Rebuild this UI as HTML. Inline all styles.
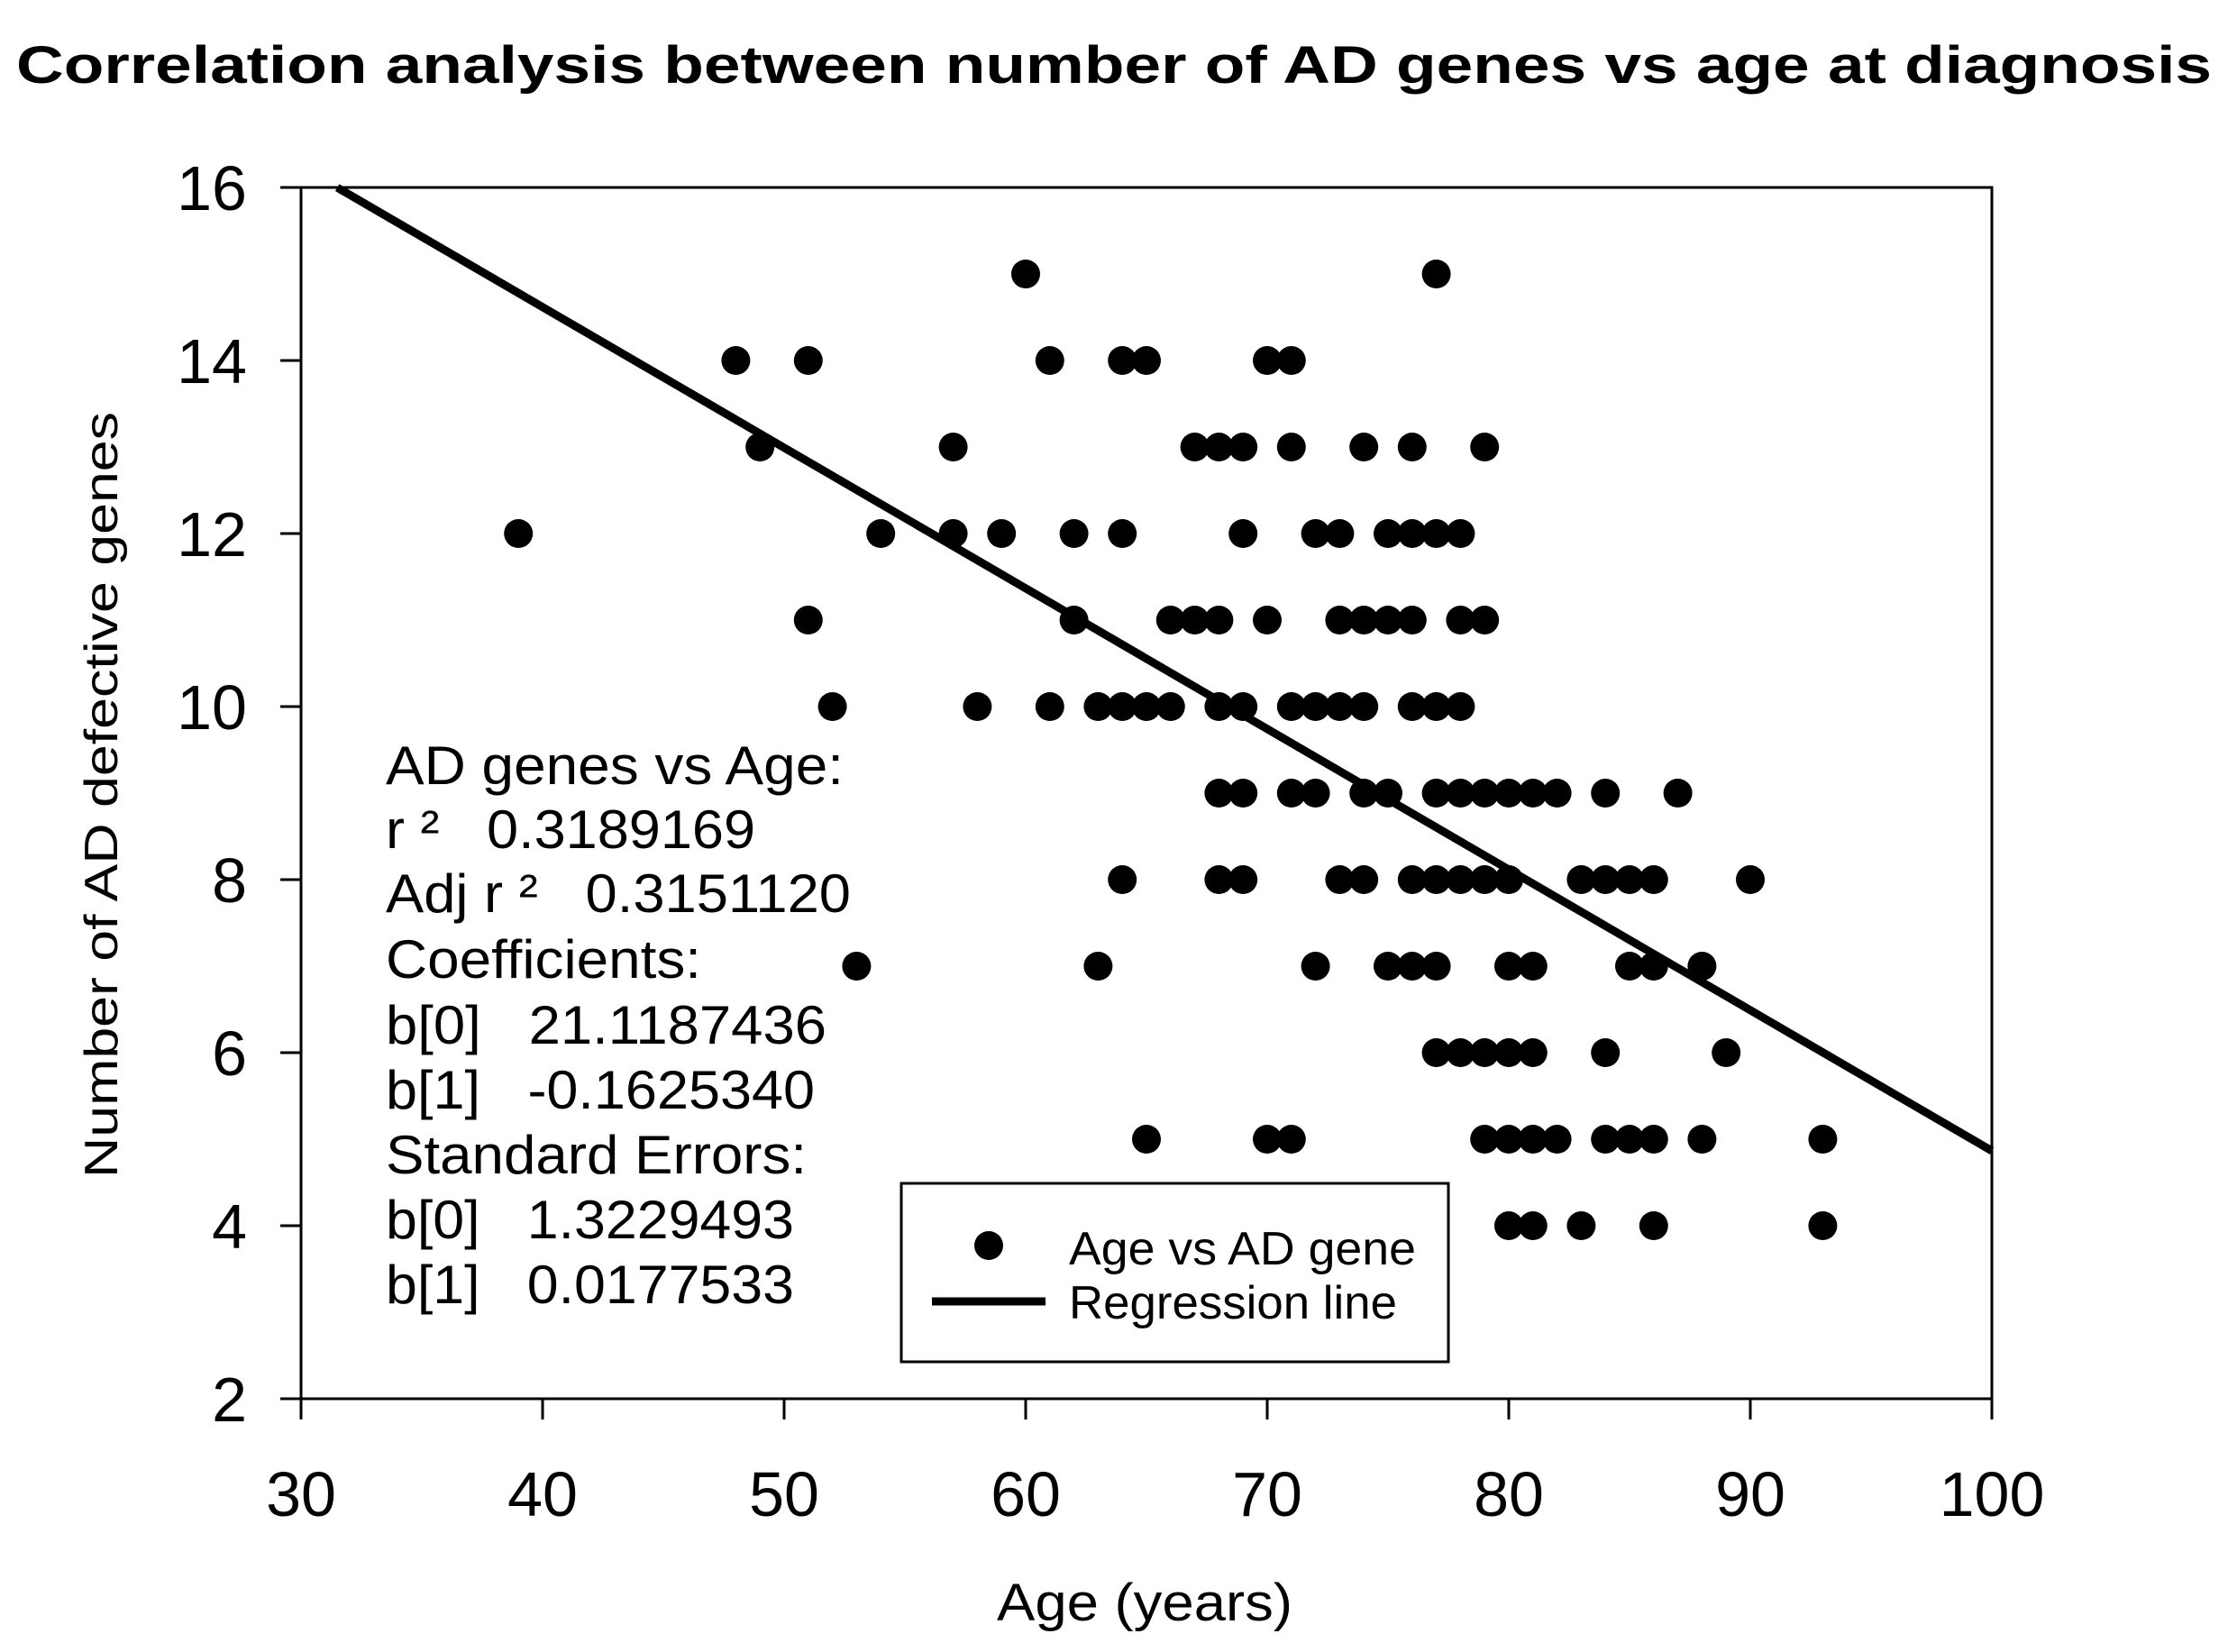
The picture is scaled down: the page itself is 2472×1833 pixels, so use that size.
<!DOCTYPE html>
<html><head><meta charset="utf-8"><style>
html,body{margin:0;padding:0;background:#fff}
svg{display:block;font-family:"Liberation Sans",Arial,sans-serif}
</style></head><body>
<svg id="chart" width="2472" height="1833" viewBox="0 0 2472 1833" xmlns="http://www.w3.org/2000/svg">
<text x="1236" y="92" text-anchor="middle" font-size="58" font-weight="bold" textLength="2436" lengthAdjust="spacingAndGlyphs">Correlation analysis between number of AD genes vs age at diagnosis</text>
<rect x="334" y="208" width="1876" height="1344" fill="none" stroke="#000" stroke-width="3"/>
<g id="axes"></g>
<g id="marks"></g>
<text transform="translate(130,882) rotate(-90)" text-anchor="middle" font-size="52" textLength="850" lengthAdjust="spacingAndGlyphs">Number of AD defective genes</text>
<text x="1270" y="1798" text-anchor="middle" font-size="58" textLength="328" lengthAdjust="spacingAndGlyphs">Age (years)</text>
<g font-size="60" lengthAdjust="spacingAndGlyphs">
<text x="428" y="870" textLength="508" lengthAdjust="spacingAndGlyphs">AD genes vs Age:</text>
<text x="428" y="941" textLength="410" lengthAdjust="spacingAndGlyphs">r ² &#160;&#160;0.3189169</text>
<text x="428" y="1012" textLength="516" lengthAdjust="spacingAndGlyphs">Adj r ² &#160;&#160;0.3151120</text>
<text x="428" y="1085" textLength="350" lengthAdjust="spacingAndGlyphs">Coefficients:</text>
<text x="428" y="1158" textLength="489" lengthAdjust="spacingAndGlyphs">b[0] &#160;&#160;21.1187436</text>
<text x="428" y="1230" textLength="476" lengthAdjust="spacingAndGlyphs">b[1] &#160;&#160;-0.1625340</text>
<text x="428" y="1302" textLength="467" lengthAdjust="spacingAndGlyphs">Standard Errors:</text>
<text x="428" y="1374" textLength="453" lengthAdjust="spacingAndGlyphs">b[0] &#160;&#160;1.3229493</text>
<text x="428" y="1446" textLength="453" lengthAdjust="spacingAndGlyphs">b[1] &#160;&#160;0.0177533</text>
</g>
<g>
<rect x="1000" y="1313" width="607" height="198" fill="#fff" stroke="#000" stroke-width="3"/>
<circle cx="1097" cy="1382" r="16" fill="#000"/>
<text x="1186" y="1403" font-size="52" textLength="385" lengthAdjust="spacingAndGlyphs">Age vs AD gene</text>
<line x1="1034" y1="1444" x2="1160" y2="1444" stroke="#000" stroke-width="9"/>
<text x="1186" y="1463" font-size="52" textLength="364" lengthAdjust="spacingAndGlyphs">Regression line</text>
</g>
</svg>
<script>
const xTicks=[30,40,50,60,70,80,90,100];
const yTicks=[2,4,6,8,10,12,14,16];
const ages=[60,77, 48,51,61,64,65,70,71, 49,57,67,68,69,71,74,76,79,
39,54,57,59,62,64,69,72,73,75,76,77,78,
51,62,66,67,68,70,73,74,75,76,78,79,
52,58,61,63,64,65,66,68,69,71,72,73,74,76,77,78,
68,69,71,72,74,75,77,78,79,80,81,82,84,87,
64,68,69,73,74,76,77,78,79,80,83,84,85,86,90,
53,63,72,75,76,77,80,81,85,86,88,
77,78,79,80,81,84,89,
65,70,71,79,80,81,82,84,85,86,88,93,
80,81,83,86,93];
const genes=[15,15, 14,14,14,14,14,14,14, 13,13,13,13,13,13,13,13,13,
12,12,12,12,12,12,12,12,12,12,12,12,12,
11,11,11,11,11,11,11,11,11,11,11,11,
10,10,10,10,10,10,10,10,10,10,10,10,10,10,10,10,
9,9,9,9,9,9,9,9,9,9,9,9,9,9,
8,8,8,8,8,8,8,8,8,8,8,8,8,8,8,
7,7,7,7,7,7,7,7,7,7,7,
6,6,6,6,6,6,6,
5,5,5,5,5,5,5,5,5,5,5,5,
4,4,4,4,4];
const intercept=21.1187436;
const slope=-0.1625340;
const lineRange=[31.5,100];

const NS="http://www.w3.org/2000/svg";
const X0=334,X1=2210,Y0=1552,Y1=208;
const xs=v=>X0+(v-30)/(100-30)*(X1-X0);
const ys=v=>Y0-(v-2)/(16-2)*(Y0-Y1);
function mk(tag,attrs,parent){const e=document.createElementNS(NS,tag);for(const k in attrs)e.setAttribute(k,attrs[k]);parent.appendChild(e);return e;}
const axes=document.getElementById('axes'),marks=document.getElementById('marks');
xTicks.forEach(t=>{
  const l=mk('line',{x1:xs(t),x2:xs(t),y1:Y0,y2:Y0+23,stroke:'#000','stroke-width':3},axes);
  
  
  const tx=mk('text',{x:xs(t),y:1682,'text-anchor':'middle','font-size':70},axes);
  tx.textContent=t;
  
  
});
yTicks.forEach(t=>{
  const l=mk('line',{x1:X0-23,x2:X0,y1:ys(t),y2:ys(t),stroke:'#000','stroke-width':3},axes);
  
  
  const tx=mk('text',{x:274,y:ys(t)+25,'text-anchor':'end','font-size':70},axes);
  tx.textContent=t;
  
  
});
ages.forEach((a,i)=>{
  const c=mk('circle',{cx:xs(a),cy:ys(genes[i]),r:16,fill:'#000'},marks);
  
  
});
const rl=mk('line',{x1:xs(lineRange[0]),y1:ys(intercept+slope*lineRange[0]),x2:xs(lineRange[1]),y2:ys(intercept+slope*lineRange[1]),stroke:'#000','stroke-width':9},marks);


</script>
</body></html>
